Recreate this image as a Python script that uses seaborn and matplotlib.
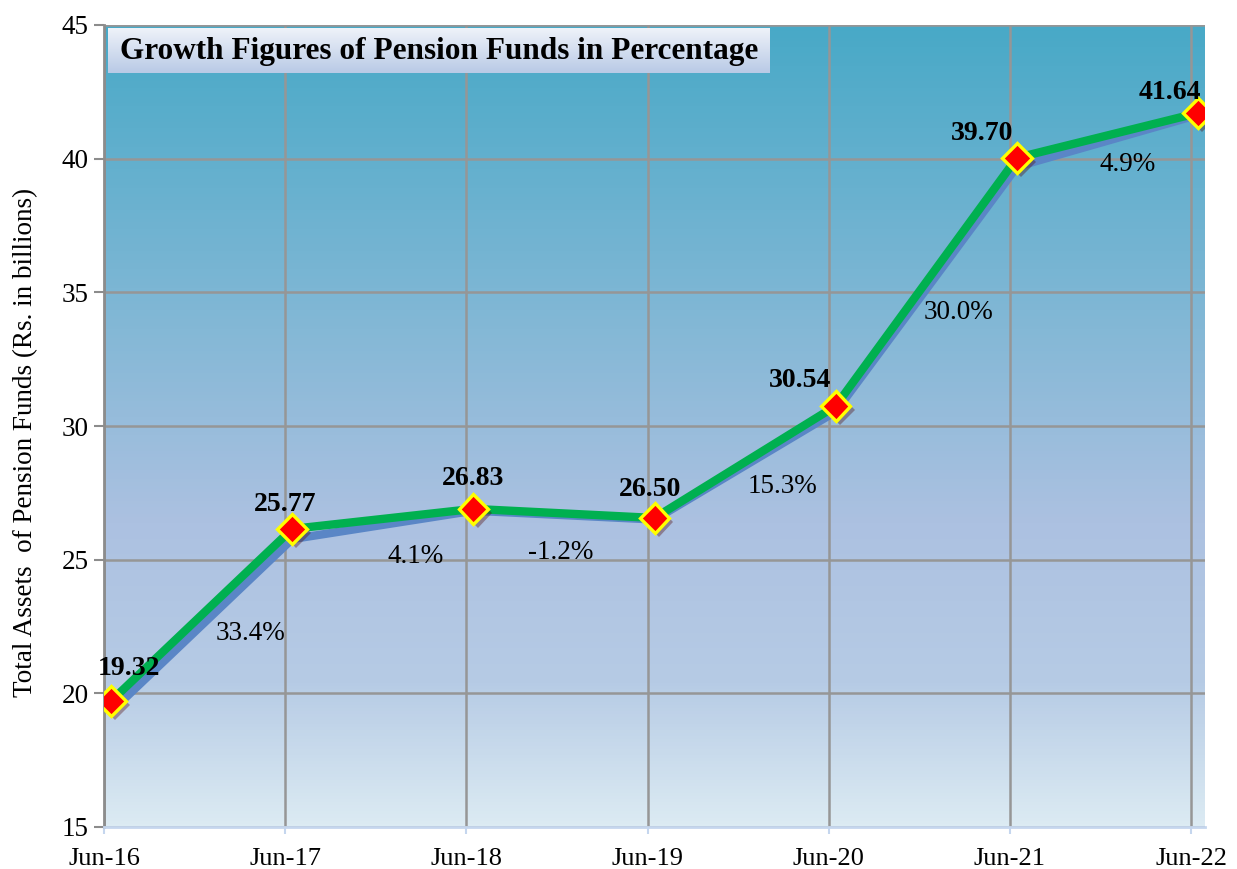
import numpy as np
import pandas as pd
import matplotlib
matplotlib.use("Agg")
import matplotlib.pyplot as plt
import matplotlib.patheffects as pe
import matplotlib.transforms as mtransforms
from matplotlib.colors import LinearSegmentedColormap
import seaborn as sns

# datos
periods = ["Jun-16", "Jun-17", "Jun-18", "Jun-19", "Jun-20", "Jun-21", "Jun-22"]
total_assets = [19.32, 25.77, 26.83, 26.50, 30.54, 39.70, 41.64]
# serie verde (ligeramente desplazada sobre la azul en el original)
green_series = [19.71, 26.15, 26.90, 26.56, 30.75, 40.03, 41.71]
growth_labels = ["33.4%", "4.1%", "-1.2%", "15.3%", "30.0%", "4.9%"]

# desplazamientos de etiquetas (en pixeles)
value_offsets = [(18, 33), (-7, 24), (0, 30), (-4, 28), (-36, 25), (-35, 24), (-28, 20)]
growth_offsets = [(49, -18), (33, -38), (-3, -39), (37, -25), (32, -31), (20, -29)]

sns.set_style("white")
plt.rcParams['font.family'] = ['Liberation Serif', 'DejaVu Serif']
plt.rcParams['text.color'] = 'black'
plt.rcParams['axes.labelcolor'] = 'black'
plt.rcParams['xtick.labelcolor'] = 'black'
plt.rcParams['ytick.labelcolor'] = 'black'

DPI = 100
fig = plt.figure(figsize=(12.37, 8.69), dpi=DPI)
ax = fig.add_axes([104 / 1237, 42 / 869, (1205 - 104) / 1237, (827 - 25) / 869])

# fondo degradado
cmap = LinearSegmentedColormap.from_list(
    "bg", [(0.0, "#dcebf3"), (0.18, "#b6cbe5"), (0.38, "#acc1e1"),
           (0.62, "#84b8d6"), (1.0, "#48a9c7")])
grad = np.linspace(0, 1, 256).reshape(-1, 1)
ax.imshow(grad, cmap=cmap, aspect="auto", origin="lower",
          extent=[0, 1, 0, 1], transform=ax.transAxes, zorder=0)

df = pd.DataFrame({"x": np.arange(len(periods)), "assets": total_assets,
                   "green": green_series})

shift = mtransforms.ScaledTranslation(7 / DPI, 0, fig.dpi_scale_trans)
tr = ax.transData + shift

sns.lineplot(data=df, x="x", y="assets", ax=ax, color="#5a86c6", lw=6,
             transform=tr, zorder=3, solid_capstyle="round")
sns.lineplot(data=df, x="x", y="green", ax=ax, color="#00b050", lw=6,
             transform=tr, zorder=4, solid_capstyle="round")
ax.plot(df["x"], df["green"], ls="none", marker="D", ms=15, mfc="#ff0000",
        mec="#ffff00", mew=2.4, transform=tr, zorder=5,
        path_effects=[pe.SimplePatchShadow(offset=(3, -3), alpha=0.35), pe.Normal()])

# etiquetas de valores
for i, (v, g) in enumerate(zip(total_assets, green_series)):
    dx, dy = value_offsets[i]
    ax.annotate(f"{v:.2f}", (i, g), xycoords=tr, xytext=(dx * 0.72, dy * 0.72),
                textcoords="offset points", ha="center", va="center",
                fontsize=20, fontweight="bold", zorder=6)

# etiquetas de crecimiento
for i, lab in enumerate(growth_labels):
    mx = i + 0.5
    my = (green_series[i] + green_series[i + 1]) / 2
    dx, dy = growth_offsets[i]
    ax.annotate(lab, (mx, my), xycoords=tr, xytext=(dx * 0.72, dy * 0.72),
                textcoords="offset points", ha="center", va="center",
                fontsize=19.5, zorder=6)

ax.set_xlim(0, 6.077)
ax.set_ylim(15, 45)
ax.set_xticks(range(len(periods)))
ax.set_xticklabels(periods, fontsize=19)
for lbl in ax.get_xticklabels():
    lbl.set_transform(lbl.get_transform() + shift)
ax.set_yticks(range(15, 46, 5))
ax.tick_params(axis="y", labelsize=19.5, length=7, width=1.5, color="#8c8c8c",
               direction="out", left=True, pad=4)
ax.tick_params(axis="x", length=5, width=1.5, color="#c5d6ee", direction="out",
               bottom=True, pad=10)
ax.set_xlabel("")
ax.set_ylabel("Total Assets  of Pension Funds (Rs. in billions)", fontsize=19.5)
ax.yaxis.set_label_coords(-0.06, 0.48)

ax.grid(True, color="#969696", lw=1.8, zorder=1)
for gl in ax.get_xgridlines() + ax.get_ygridlines():
    gl.set_zorder(1)
for s in ["top", "right"]:
    ax.spines[s].set_visible(False)
ax.spines["left"].set_color("#8c8c8c")
ax.spines["left"].set_linewidth(2)
ax.spines["bottom"].set_color("#c5d6ee")
ax.spines["bottom"].set_linewidth(2)

# caja del titulo con degradado
x0, y0, w, h = 108 / 1237, (869 - 73) / 869, (770 - 108) / 1237, 45 / 869
tax = fig.add_axes([x0, y0, w, h])
tgrad = LinearSegmentedColormap.from_list("t", ["#b9cae6", "#eef2f9"])
tax.imshow(np.linspace(0, 1, 64).reshape(-1, 1), cmap=tgrad, aspect="auto",
           origin="lower", extent=[0, 1, 0, 1])
tax.set_axis_off()
tax.text(0.5, 0.47, "Growth Figures of Pension Funds in Percentage",
         ha="center", va="center", fontsize=22.5, fontweight="bold",
         transform=tax.transAxes)

fig.savefig("out.png", dpi=DPI)
